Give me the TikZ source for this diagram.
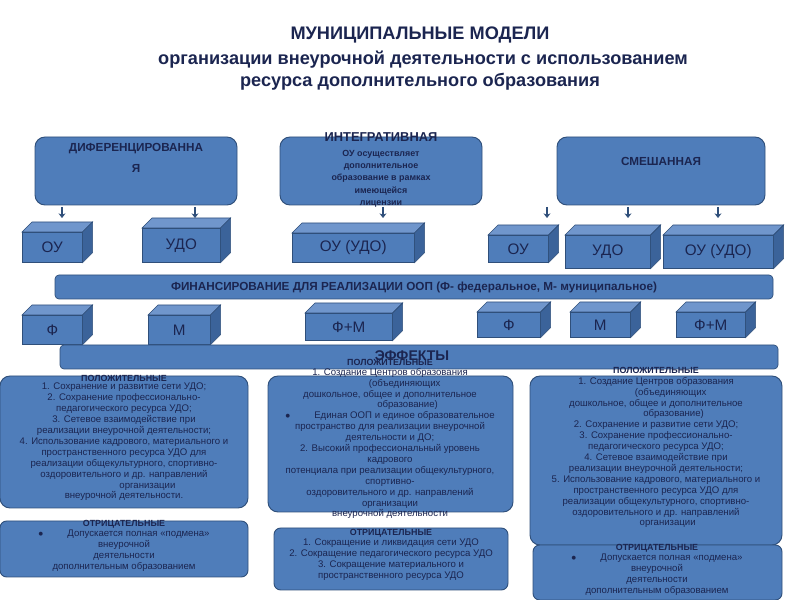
\documentclass[tikz,border=0pt]{standalone}
\usepackage{fontspec}
\setmainfont{Liberation Sans}
\usetikzlibrary{positioning,calc,arrows.meta}
\definecolor{boxblue}{HTML}{4F7DBA}
\definecolor{boxline}{HTML}{2F4F7A}
\definecolor{navy}{HTML}{1B2550}
\definecolor{topface}{HTML}{7096CC}
\definecolor{sideface}{HTML}{3B639A}
\tikzset{
  panel/.style={draw=boxline,fill=boxblue,rounded corners=3mm,line width=0.8pt},
  bar/.style={draw=boxline,fill=boxblue,rounded corners=1.2mm,line width=0.6pt},
  front/.style={draw=boxline,fill=boxblue,line width=0.5pt,inner sep=0pt,
    font=\fontsize{13}{13}\selectfont,text=navy},
  small/.style={align=center,text=navy,font=\fontsize{8.2}{9.3}\selectfont,inner sep=0pt},
  head/.style={text=navy,font=\bfseries\fontsize{7.6}{9}\selectfont,inner sep=0pt},
  down/.style={-{Stealth[length=4pt,width=6pt]},draw=boxline,line width=2pt},
}
% cube: name, left x, top y, width, height, text
\newcommand\cubebox[6]{%
  \node[front,anchor=north west,minimum width=#4*0.03cm,minimum height=#5*0.03cm]
    (#1) at (#2,#3) {#6};
  \filldraw[draw=boxline,fill=topface,line width=0.5pt]
    (#1.north west) -- ++(10,-10) -- ($(#1.north east)+(10,-10)$) -- (#1.north east) -- cycle;
  \filldraw[draw=boxline,fill=sideface,line width=0.5pt]
    (#1.north east) -- ++(10,-10) -- ($(#1.south east)+(10,-10)$) -- (#1.south east) -- cycle;
}
\begin{document}
\begin{tikzpicture}[x=0.03cm,y=-0.03cm]
  \useasboundingbox (0,0) rectangle (800,600);
  % title
  \node[text=navy,font=\bfseries\fontsize{15.5}{15.5}\selectfont] (title1) at (420,35) {МУНИЦИПАЛЬНЫЕ МОДЕЛИ};
  \node[text=navy,font=\bfseries\fontsize{15.5}{15.5}\selectfont] (title2) at (423,60) {организации внеурочной деятельности с использованием};
  \node[text=navy,font=\bfseries\fontsize{15.5}{15.5}\selectfont] (title3) at (420,82) {ресурса дополнительного  образования};

  % models
  \draw[panel] (35,137) rectangle (237,205);
  \node[head,align=center,font=\bfseries\fontsize{10}{18}\selectfont] (diftxt) at (136,158) {ДИФЕРЕНЦИРОВАННА\\Я};
  \draw[panel] (280,137) rectangle (482,205);
  \node[head,font=\bfseries\fontsize{11}{11}\selectfont] (inthead) at (381,137) {ИНТЕГРАТИВНАЯ};
  \node[small,anchor=north,font=\bfseries\fontsize{7.6}{10.4}\selectfont] (inttxt) at (381,150)
    {ОУ осуществляет\\дополнительное\\образование в рамках\\имеющейся\\лицензии};
  \draw[panel] (557,137) rectangle (765,205);
  \node[head,font=\bfseries\fontsize{10}{10}\selectfont] (mixtxt) at (661,161) {СМЕШАННАЯ};

  % kinds of institutions
  \cubebox{ou1}{22}{232}{60}{30}{ОУ}
  \cubebox{udo1}{142}{228}{78}{34}{УДО}
  \cubebox{ouudo1}{292}{233}{122}{29}{ОУ (УДО)}
  \cubebox{ou2}{488}{235}{60}{27}{ОУ}
  \cubebox{udo2}{565}{235}{85}{33}{УДО}
  \cubebox{ouudo2}{663}{235}{110}{33}{ОУ (УДО)}
  \foreach \n/\x in {ou1/62,udo1/195,ouudo1/383,ou2/547,udo2/628,ouudo2/718}
    \draw[down] (\x,207) -- (\x,218);

  % financing
  \draw[bar] (55,275) rectangle (773,299);
  \node[head,font=\bfseries\fontsize{10}{10}\selectfont] (fin) at (414,287)
    {ФИНАНСИРОВАНИЕ ДЛЯ РЕАЛИЗАЦИИ ООП (Ф- федеральное, М- муниципальное)};
  \cubebox{f1}{22}{315}{60}{29}{Ф}
  \cubebox{m1}{148}{315}{62}{29}{М}
  \cubebox{fm1}{305}{313}{87}{27}{Ф+М}
  \cubebox{f2}{477}{312}{63}{25}{Ф}
  \cubebox{m2}{570}{312}{60}{25}{М}
  \cubebox{fm2}{676}{312}{69}{25}{Ф+М}

  % effects
  \draw[bar] (60,345) rectangle (778,369);
  \node[head,font=\bfseries\fontsize{12}{12}\selectfont] (eff) at (412,356) {ЭФФЕКТЫ};

  % left column
  \draw[panel] (0,376) rectangle (248,508);
  \node[head] (lpos) at (124,378) {ПОЛОЖИТЕЛЬНЫЕ};
  \node[small,anchor=north] (lpostxt) at (124,383)
    {1. Сохранение и развитие сети УДО;\\2. Сохранение профессионально-\\педагогического ресурса УДО;\\3. Сетевое взаимодействие при\\реализации внеурочной деятельности;\\4. Использование кадрового, материального и\\пространственного ресурса УДО для\\реализации общекультурного, спортивно-\\оздоровительного и др. направлений\\\hspace{40pt}организации\\внеурочной деятельности.};
  \draw[panel,rounded corners=2mm] (0,521) rectangle (248,577);
  \node[head] (lneg) at (124,524) {ОТРИЦАТЕЛЬНЫЕ};
  \node[small,anchor=north] (lnegtxt) at (124,530)
    {$\bullet$\hspace{2.5em}Допускается полная «подмена»\\внеурочной\\деятельности\\дополнительным образованием};

  % middle column
  \draw[panel] (268,376) rectangle (513,512);
  \node[head] (mpos) at (390,362) {ПОЛОЖИТЕЛЬНЫЕ};
  \node[small,anchor=north] (mpostxt) at (390,368)
    {1. Создание Центров образования\\\hspace{25pt}(объединяющих\\дошкольное, общее и дополнительное\\\hspace{30pt}образование)\\$\bullet$\hspace{2.5em}Единая ООП и единое образовательное\\пространство  для реализации внеурочной\\деятельности и ДО;\\2. Высокий профессиональный уровень\\кадрового\\потенциала при реализации общекультурного,\\спортивно-\\оздоровительного и др. направлений\\организации\\внеурочной деятельности};
  \draw[panel,rounded corners=2mm] (274,528) rectangle (508,590);
  \node[head] (mneg) at (391,533) {ОТРИЦАТЕЛЬНЫЕ};
  \node[small,anchor=north] (mnegtxt) at (391,539)
    {1. Сокращение и ликвидация сети УДО\\2. Сокращение педагогического ресурса УДО\\3. Сокращение материального и\\пространственного ресурса УДО};

  % right column
  \draw[panel] (530,376) rectangle (782,545);
  \node[head] (rpos) at (656,370) {ПОЛОЖИТЕЛЬНЫЕ};
  \node[small,anchor=north] (rpostxt) at (656,377)
    {1. Создание Центров образования\\\hspace{25pt}(объединяющих\\дошкольное, общее и дополнительное\\\hspace{30pt}образование)\\2. Сохранение и развитие сети УДО;\\3. Сохранение профессионально-\\педагогического ресурса УДО;\\4. Сетевое взаимодействие при\\реализации внеурочной деятельности;\\5. Использование кадрового, материального и\\пространственного ресурса УДО для\\реализации общекультурного, спортивно-\\оздоровительного и др. направлений\\\hspace{20pt}организации};
  \draw[panel,rounded corners=2mm] (533,545) rectangle (782,600);
  \node[head] (rneg) at (657,548) {ОТРИЦАТЕЛЬНЫЕ};
  \node[small,anchor=north] (rnegtxt) at (657,554)
    {$\bullet$\hspace{2.5em}Допускается полная «подмена»\\внеурочной\\деятельности\\дополнительным образованием};
\end{tikzpicture}
\end{document}
